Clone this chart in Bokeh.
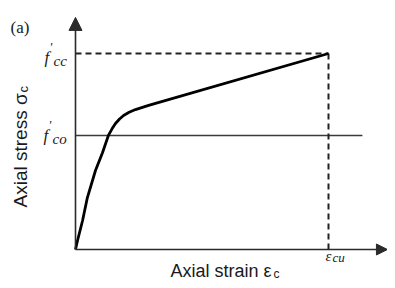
import math
from bokeh.plotting import figure
from bokeh.models import Range1d, Arrow, NormalHead
from bokeh.core.properties import value
from bokeh.embed import file_html
from bokeh.resources import INLINE

# ---- data (normalised: eps/eps_cu, sigma/f'cc) ----
strain = [0.0, 0.008, 0.028, 0.047, 0.079, 0.107, 0.130, 0.145, 0.158, 0.174, 0.190, 0.212, 0.237, 0.289, 1.0]
stress = [0.0, 0.046, 0.148, 0.265, 0.403, 0.495, 0.582, 0.617, 0.643, 0.666, 0.684, 0.700, 0.714, 0.735, 1.0]
f_co = 0.582
f_cc = 1.0
eps_cu = 1.0
x_axis_end = 1.233
y_axis_end = 1.184
fco_line_end = 1.134

panel_label = "(a)"
fcc_main, fcc_sub = "f", "cc"
fco_main, fco_sub = "f", "co"
ecu_main, ecu_sub = "\u03b5", "cu"
xlabel_main, xlabel_sub = "Axial strain \u03b5", "c"
ylabel_main, ylabel_sub = "Axial stress \u03c3", "c"

# ---- geometry ----
W, H = 387, 280
X0, Y0 = 75, 249
SX, SY = 253, 196
TY = -5   # baseline correction (horizontal texts)
TX = -7   # baseline correction (rotated texts)

def dx(px):
    return (px - X0) / SX

def dy(py):
    return (Y0 - py) / SY

p = figure(width=W, height=H,
           x_range=Range1d(dx(0), dx(W)), y_range=Range1d(dy(H), dy(0)),
           output_backend="svg", toolbar_location=None, min_border=0,
           x_axis_location=None, y_axis_location=None)
p.grid.visible = False
p.outline_line_color = None
p.background_fill_color = "white"

AX = "#2b2b2b"
# axes with arrows
p.add_layout(Arrow(end=NormalHead(size=13, fill_color=AX, line_color=AX, line_width=1),
                   x_start=0, y_start=0, x_end=0, y_end=y_axis_end,
                   line_color=AX, line_width=1.6))
p.add_layout(Arrow(end=NormalHead(size=11, fill_color=AX, line_color=AX, line_width=1),
                   x_start=0, y_start=0, x_end=x_axis_end, y_end=0,
                   line_color=AX, line_width=1.6))

# f'co horizontal line
p.line([0, fco_line_end], [f_co, f_co], line_color="#3a3a3a", line_width=1.4)
# dashed guides
p.line([0, eps_cu], [f_cc, f_cc], line_color="#222", line_width=2, line_dash="6 4")
p.line([eps_cu, eps_cu], [f_cc, 0], line_color="#222", line_width=2, line_dash="6 4")

# stress-strain curve
p.line(strain, stress, line_color="black", line_width=2.8, line_join="round")

serif = value("Liberation Serif")
sans = value("Liberation Sans")

def txt(px, py, t, size, font, style="normal", angle=0.0):
    if angle:
        x, y = dx(px + TX), dy(py)
    else:
        x, y = dx(px), dy(py + TY)
    p.text(x=[x], y=[y], text=[t], text_font=font, text_font_style=style,
           text_font_size=f"{size}px", text_color="#1a1a1a", angle=angle,
           text_align="left", text_baseline="alphabetic")

# panel label
txt(10, 32, panel_label, 17, serif)
# f'cc
txt(44, 62, fcc_main, 17, serif, "italic")
txt(49, 51, "'", 13, serif, "italic")
txt(53, 65, fcc_sub, 15, serif, "italic")
# f'co
txt(43, 140, fco_main, 17, serif, "italic")
txt(48, 129, "'", 13, serif, "italic")
txt(52, 143, fco_sub, 15, serif, "italic")
# eps_cu
txt(325, 260, ecu_main, 15, serif, "italic")
txt(332, 262, ecu_sub, 13, serif, "italic")
# x label
txt(170, 275, xlabel_main, 18, sans)
txt(273, 278, xlabel_sub, 12, sans)
# y label (rotated)
txt(27, 207, ylabel_main, 19, sans, angle=math.pi / 2)
txt(30, 92, ylabel_sub, 13, sans, angle=math.pi / 2)

open("out.html", "w").write(file_html(p, INLINE))
